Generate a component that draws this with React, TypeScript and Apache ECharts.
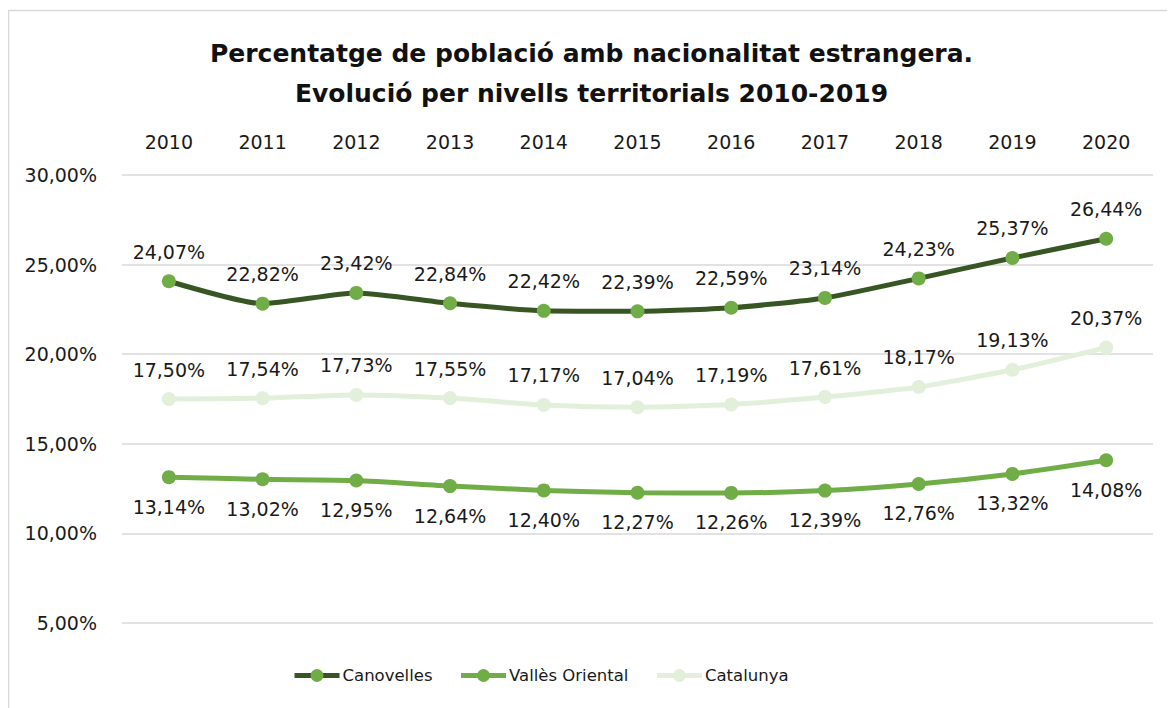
import React, { useEffect, useRef } from "react";
import * as echarts from "echarts";

const years = ["2010", "2011", "2012", "2013", "2014", "2015", "2016", "2017", "2018", "2019", "2020"];
const canovelles = [24.07, 22.82, 23.42, 22.84, 22.42, 22.39, 22.59, 23.14, 24.23, 25.37, 26.44];
const vallesOriental = [13.14, 13.02, 12.95, 12.64, 12.4, 12.27, 12.26, 12.39, 12.76, 13.32, 14.08];
const catalunya = [17.5, 17.54, 17.73, 17.55, 17.17, 17.04, 17.19, 17.61, 18.17, 19.13, 20.37];
const titleLines = [
  "Percentatge de població amb nacionalitat estrangera.",
  "Evolució per nivells territorials 2010-2019",
];

const FONT = "DejaVu Sans";
const fmt = (v: number) => v.toFixed(2).replace(".", ",") + "%";

export default function App() {
  const ref = useRef<HTMLDivElement>(null);
  useEffect(() => {
    if (!ref.current) return;
    const chart = echarts.init(ref.current, undefined, { renderer: "svg" });
    const labelStyle = (pos: "top" | "bottom") => ({
      show: true,
      position: pos,
      distance: 13,
      fontFamily: FONT,
      fontSize: 19,
      color: "#1a1a1a",
      formatter: (p: any) => fmt(p.value),
    });
    const titleStyle = {
      fontFamily: FONT,
      fontSize: 25,
      fontWeight: "bold",
      color: "#111",
    };
    chart.setOption({
      animation: false,
      textStyle: { fontFamily: FONT },
      title: [
        { text: titleLines[0], left: "center", top: 28, textStyle: titleStyle },
        { text: titleLines[1], left: "center", top: 68, textStyle: titleStyle },
      ],
      graphic: [
        {
          type: "rect",
          shape: { x: 0.5, y: 2.5, width: 1300, height: 900 },
          style: { fill: "none", stroke: "#d9d9d9", lineWidth: 1.5 },
          silent: true,
        },
      ],
      legend: {
        bottom: 19,
        left: 279,
        itemWidth: 45,
        itemHeight: 16,
        itemGap: 26,
        textStyle: { fontFamily: FONT, fontSize: 16.5, color: "#1a1a1a", padding: [0, 0, 0, -2] },
        lineStyle: { width: 5 },
        data: ["Canovelles", "Vallès Oriental", "Catalunya"],
      },
      grid: { left: 114, right: 22, top: 167, bottom: 85 },
      xAxis: {
        type: "category",
        data: years,
        position: "top",
        boundaryGap: true,
        axisLine: { show: false },
        axisTick: { show: false },
        axisLabel: { fontFamily: FONT, fontSize: 19, color: "#1a1a1a", margin: 24 },
      },
      yAxis: {
        type: "value",
        min: 5,
        max: 30,
        interval: 5,
        axisLine: { show: false },
        axisTick: { show: false },
        splitLine: { lineStyle: { color: "#d9d9d9", width: 1.5 } },
        axisLabel: {
          fontFamily: FONT,
          fontSize: 19,
          color: "#1a1a1a",
          margin: 25,
          formatter: (v: number) => fmt(v),
        },
      },
      series: [
        {
          name: "Canovelles",
          type: "line",
          data: canovelles,
          smooth: 0.2,
          symbol: "circle",
          symbolSize: 14,
          lineStyle: { color: "#375623", width: 5 },
          itemStyle: { color: "#70ad47" },
          label: labelStyle("top"),
          z: 3,
        },
        {
          name: "Vallès Oriental",
          type: "line",
          data: vallesOriental,
          smooth: 0.2,
          symbol: "circle",
          symbolSize: 14,
          lineStyle: { color: "#70ad47", width: 5 },
          itemStyle: { color: "#70ad47" },
          label: labelStyle("bottom"),
          z: 2,
        },
        {
          name: "Catalunya",
          type: "line",
          data: catalunya,
          smooth: 0.2,
          symbol: "circle",
          symbolSize: 14,
          lineStyle: { color: "#e2efda", width: 5 },
          itemStyle: { color: "#e2efda" },
          label: labelStyle("top"),
          z: 2,
        },
      ],
    });
    return () => chart.dispose();
  }, []);
  return <div ref={ref} style={{ width: 1167, height: 700 }} />;
}
